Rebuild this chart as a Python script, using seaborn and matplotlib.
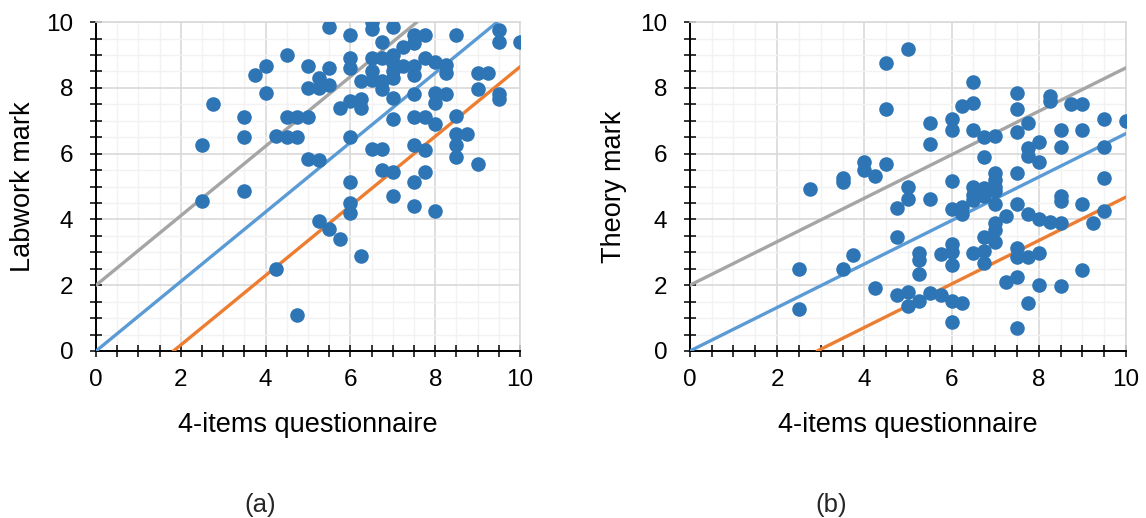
import numpy as np
import seaborn as sns
import matplotlib.pyplot as plt
from matplotlib.ticker import MultipleLocator

# panel (a): 4-items questionnaire vs labwork mark
lab_x = [2.5, 2.5, 2.75, 3.5, 3.5, 3.5, 3.75, 4.0, 4.0, 4.25, 4.25, 4.5, 4.5, 4.5,
         4.75, 4.75, 4.75, 5.0, 5.0, 5.0, 5.0, 5.25, 5.25, 5.25, 5.25, 5.5, 5.5, 5.5,
         5.5, 5.75, 5.75, 6.0, 6.0, 6.0, 6.0, 6.0, 6.0, 6.0, 6.0, 6.25, 6.25, 6.25,
         6.25, 6.5, 6.5, 6.5, 6.5, 6.5, 6.5, 6.75, 6.75, 6.75, 6.75, 6.75, 6.75, 7.0,
         7.0, 7.0, 7.0, 7.0, 7.0, 7.0, 7.0, 7.0, 7.25, 7.25, 7.5, 7.5, 7.5, 7.5, 7.5,
         7.5, 7.5, 7.5, 7.5, 7.75, 7.75, 7.75, 7.75, 7.75, 8.0, 8.0, 8.0, 8.0, 8.0,
         8.25, 8.25, 8.25, 8.5, 8.5, 8.5, 8.5, 8.5, 8.75, 9.0, 9.0, 9.0, 9.25, 9.5,
         9.5, 9.5, 9.5, 10.0]
lab_y = [6.25, 4.55, 7.5, 7.1, 6.5, 4.85, 8.4, 8.65, 7.85, 6.55, 2.5, 9.0, 7.1, 6.5,
         7.1, 6.5, 1.1, 8.65, 8.0, 7.1, 5.85, 8.3, 8.0, 5.8, 3.95, 9.85, 8.6, 8.1,
         3.7, 7.4, 3.4, 9.6, 8.9, 8.6, 7.6, 6.5, 5.15, 4.5, 4.2, 8.2, 7.65, 7.4,
         2.9, 10.0, 9.8, 8.9, 8.5, 8.25, 6.15, 9.4, 8.9, 8.2, 7.95, 6.15, 5.5, 9.85,
         9.0, 8.75, 8.5, 8.3, 7.7, 7.05, 5.45, 4.7, 9.25, 8.65, 9.6, 9.35, 8.65, 8.4, 7.8,
         7.1, 6.25, 5.15, 4.4, 9.6, 8.9, 7.1, 6.1, 5.45, 8.8, 7.85, 7.55, 6.9, 4.25,
         8.7, 8.45, 7.8, 9.6, 7.15, 6.6, 6.25, 5.9, 6.6, 8.45, 7.95, 5.7, 8.45, 9.75,
         9.4, 7.8, 7.65, 9.4]

# panel (b): 4-items questionnaire vs theory mark
theory_x = [2.5, 2.5, 2.75, 3.5, 3.5, 3.5, 3.75, 4.0, 4.0, 4.25, 4.25, 4.5, 4.5, 4.5,
            4.75, 4.75, 4.75, 5.0, 5.0, 5.0, 5.0, 5.0, 5.25, 5.25, 5.25, 5.25, 5.5, 5.5,
            5.5, 5.5, 5.75, 5.75, 6.0, 6.0, 6.0, 6.0, 6.0, 6.0, 6.0, 6.0, 6.0, 6.25,
            6.25, 6.25, 6.25, 6.5, 6.5, 6.5, 6.5, 6.5, 6.5, 6.5, 6.75, 6.75, 6.75, 6.75,
            6.75, 6.75, 6.75, 7.0, 7.0, 7.0, 7.0, 7.0, 7.0, 7.0, 7.0, 7.0, 7.25, 7.25,
            7.5, 7.5, 7.5, 7.5, 7.5, 7.5, 7.5, 7.5, 7.5, 7.75, 7.75, 7.75, 7.75, 7.75,
            7.75, 8.0, 8.0, 8.0, 8.0, 8.0, 8.25, 8.25, 8.25, 8.5, 8.5, 8.5, 8.5, 8.5,
            8.5, 8.75, 9.0, 9.0, 9.0, 9.0, 9.25, 9.5, 9.5, 9.5, 9.5, 10.0]
theory_y = [2.5, 1.27, 4.93, 5.25, 5.15, 2.5, 2.92, 5.75, 5.5, 5.33, 1.92, 8.75, 7.35, 5.68,
            4.34, 3.46, 1.7, 9.17, 4.99, 4.61, 1.8, 1.37, 2.99, 2.77, 2.34, 1.53, 6.92, 6.29,
            4.62, 1.75, 2.95, 1.7, 7.05, 6.72, 5.18, 4.31, 3.25, 3.0, 2.61, 1.53, 0.87, 7.45,
            4.37, 4.18, 1.47, 8.17, 7.55, 6.72, 5.0, 4.74, 4.6, 2.99, 6.5, 5.9, 4.97, 4.71,
            3.46, 3.05, 2.67, 6.54, 5.4, 5.2, 5.0, 4.85, 4.47, 3.88, 3.68, 3.32, 4.1, 2.11,
            7.83, 7.36, 6.66, 5.42, 4.47, 3.12, 2.85, 2.24, 0.71, 6.92, 6.16, 5.93, 4.16, 2.85,
            1.45, 6.36, 5.75, 4.0, 2.99, 2.0, 7.75, 7.6, 3.93, 6.72, 6.21, 4.71, 4.57, 3.9,
            1.98, 7.5, 7.5, 6.72, 4.47, 2.46, 3.9, 7.05, 6.19, 5.25, 4.26, 7.0]

# reference lines: common slope, offsets upper / centre / lower
lab_slope = 1.057
theory_slope = 0.661
line_offsets = [2.0, 0.0, -1.93]
line_colors = ["#A5A5A5", "#5B9BD5", "#ED7D31"]

sns.set_theme(style="white")
plt.rcParams["font.family"] = ["Liberation Sans", "DejaVu Sans"]

fig = plt.figure(figsize=(11.46, 5.18), dpi=100)
ax1 = fig.add_axes([0.0838, 0.3224, 0.370, 0.635])
ax2 = fig.add_axes([0.602, 0.3224, 0.3805, 0.635])


def draw_panel(ax, xs, ys, slope, ylabel, ylabel_x):
    sns.scatterplot(x=xs, y=ys, ax=ax, color="#2E75B6", s=110, linewidth=0, zorder=4)
    for off, col in zip(line_offsets, line_colors):
        ax.axline((0, off), slope=slope, color=col, lw=2.4, zorder=3)

    ax.set_xlim(0, 10)
    ax.set_ylim(0, 10)
    for axis in (ax.xaxis, ax.yaxis):
        axis.set_major_locator(MultipleLocator(2))
        axis.set_minor_locator(MultipleLocator(0.5))
    ax.grid(True, which="major", color="#D9D9D9", lw=1.2)
    ax.grid(True, which="minor", color="#F2F2F2", lw=1.0)
    ax.set_axisbelow(True)

    ax.tick_params(which="both", direction="inout", length=8.5, width=1.1,
                   color="black", left=True, bottom=True)
    ax.tick_params(axis="x", which="major", labelsize=17.5, pad=8.5, labelcolor="black")
    ax.tick_params(axis="y", which="major", labelsize=17.5, pad=12, labelcolor="black")

    for side in ("left", "bottom"):
        ax.spines[side].set_color("black")
        ax.spines[side].set_linewidth(1.4)
    for side in ("top", "right"):
        ax.spines[side].set_color("#D9D9D9")
        ax.spines[side].set_linewidth(1.2)

    ax.set_xlabel("4-items questionnaire", fontsize=19.5, color="black")
    ax.set_ylabel(ylabel, fontsize=19.5, color="black")
    ax.xaxis.set_label_coords(0.5, -0.185)
    ax.yaxis.set_label_coords(ylabel_x, 0.5)


draw_panel(ax1, lab_x, lab_y, lab_slope, "Labwork mark", -0.142)
draw_panel(ax2, theory_x, theory_y, theory_slope, "Theory mark", -0.145)

fig.text(0.227, 0.026, "(a)", fontsize=18.5, ha="center", va="center")
fig.text(0.725, 0.026, "(b)", fontsize=18.5, ha="center", va="center")

fig.savefig("out.png", dpi=100, facecolor="white")
